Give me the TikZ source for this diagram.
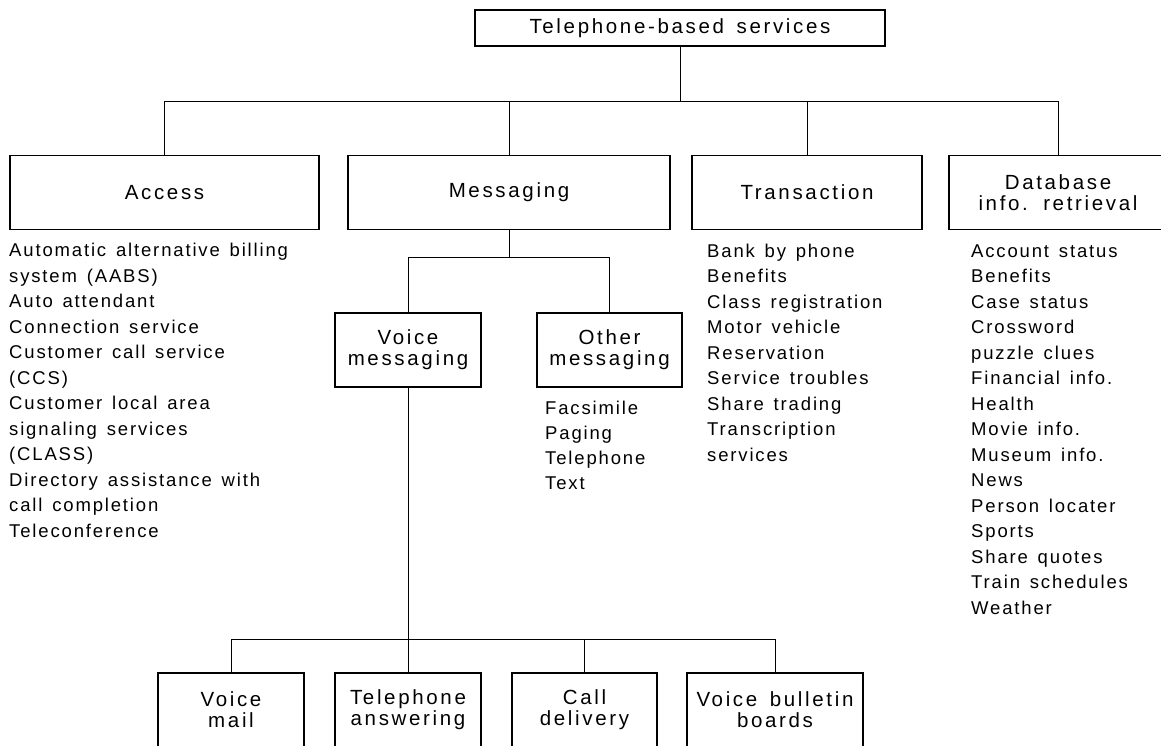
\documentclass[tikz,border=0pt]{standalone}
\usepackage{fontspec}
\setmainfont[LetterSpace=13,WordSpace=1.5]{Liberation Sans}
\newfontfamily\listfont[LetterSpace=10,WordSpace=1.4]{Liberation Sans}

\begin{document}
\begin{tikzpicture}[x=1pt, y=-1pt]
		\tikzstyle{svcbox} = [draw, line width=1.8pt, inner sep=0pt, minimum height=74pt, align=center, font=\fontsize{20.5}{21}\selectfont]
		\tikzstyle{listitem} = [anchor=base west, inner sep=0pt, font=\listfont\fontsize{18.5}{20}\selectfont]
		\tikzstyle{link} = [line width=0.9pt]
		\useasboundingbox (0,0) rectangle (1161,746);

		% root
		\node[svcbox, minimum width=410pt, minimum height=36pt] (tel) at (680,28) {Telephone-based services};
		\draw[link] (tel.south) -- ++(0,55) coordinate (bus1);

		% service groups
		\foreach \name/\x/\w/\label in {access/164.5/309/Access, messaging/509/322/Messaging, transaction/807/230/Transaction, database/1058/218/{Database\\info. retrieval}}
		{
			\node[svcbox, minimum width=\w pt] (\name) at (\x,192.5) {\label};
			\draw[link] (\name.north) |- (bus1);
		}

		% messaging split
		\draw[link] (messaging.south) -- ++(0,27) coordinate (bus2);
		\node[svcbox, minimum width=146pt] (voice) at (408,350) {Voice\\messaging};
		\node[svcbox, minimum width=145pt] (other) at (609.5,350) {Other\\messaging};
		\draw[link] (voice.north) |- (bus2);
		\draw[link] (other.north) |- (bus2);

		% voice messaging services
		\draw[link] (voice.south) -- ++(0,252) coordinate (bus3);
		\foreach \name/\x/\w/\label in {vmail/231/146/{Voice\\mail}, answering/408/146/{Telephone\\answering}, delivery/584.5/145/{Call\\delivery}, bulletin/775/176/{Voice bulletin\\boards}}
		{
			\node[svcbox, minimum width=\w pt] (\name) at (\x,710) {\label};
			\draw[link] (\name.north) |- (bus3);
		}

		% lists under the boxes
		\foreach \t [count=\i] in {Automatic alternative billing, system (AABS), Auto attendant, Connection service, Customer call service, (CCS), Customer local area, signaling services, (CLASS), Directory assistance with, call completion, Teleconference}
			\node[listitem] (acc\i) at (9,256.5+25.5*\i-25.5) {\t};
		\foreach \t [count=\i] in {Bank by phone, Benefits, Class registration, Motor vehicle, Reservation, Service troubles, Share trading, Transcription, services}
			\node[listitem] (trn\i) at (707,257+25.5*\i-25.5) {\t};
		\foreach \t [count=\i] in {Account status, Benefits, Case status, Crossword, puzzle clues, Financial info., Health, Movie info., Museum info., News, Person locater, Sports, Share quotes, Train schedules, Weather}
			\node[listitem] (db\i) at (971,257+25.5*\i-25.5) {\t};
		\foreach \t [count=\i] in {Facsimile, Paging, Telephone, Text}
			\node[listitem] (oth\i) at (545,414+25*\i-25) {\t};
\end{tikzpicture}
\end{document}
